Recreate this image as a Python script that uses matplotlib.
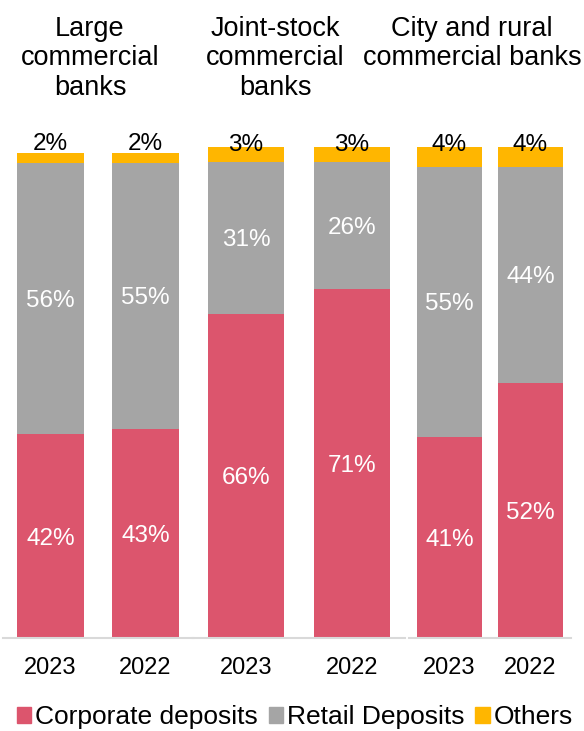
import matplotlib
matplotlib.use("Agg")
import matplotlib.pyplot as plt
from matplotlib.patches import Patch

plt.rcParams["font.family"] = ["Liberation Sans", "DejaVu Sans"]

# deposit mix per bank type, share of total (%)
groups = ["Large\ncommercial\nbanks", "Joint-stock\ncommercial\nbanks", "City and rural\ncommercial banks"]
years = ["2023", "2022"]
corporate = [[42, 43], [66, 71], [41, 52]]
retail = [[56, 55], [31, 26], [55, 44]]
others = [[2, 2], [3, 3], [4, 4]]

RED = "#DC556D"
GRAY = "#A5A5A5"
ORANGE = "#FFB600"
LINE = "#D9D9D9"

W, H = 584, 731
fig = plt.figure(figsize=(W / 100, H / 100), dpi=100)

# panel boxes in pixels: left, right, top of the 100% bar
panels = [(3, 193, 153), (193, 405, 147), (409, 571, 147)]
bar_w = [0.71, 0.72, 0.81]
top_off = [3, -4, -4]   # offset (px) of the top label baseline from the bar top
title_x = [90, 275, 472]
base_y = 638

for i, (l, r, t) in enumerate(panels):
    ax = fig.add_axes([l / W, 1 - base_y / H, (r - l) / W, (base_y - t) / H])
    x = range(len(years))
    c, rt, o = corporate[i], retail[i], others[i]
    bottom2 = [a + b for a, b in zip(c, rt)]
    ax.bar(x, c, width=bar_w[i], color=RED)
    ax.bar(x, rt, width=bar_w[i], bottom=c, color=GRAY)
    ax.bar(x, o, width=bar_w[i], bottom=bottom2, color=ORANGE)
    for j in x:
        ax.text(j, c[j] / 2 - 0.5, f"{c[j]}%", ha="center", va="center",
                color="white", fontsize=17.5)
        ax.text(j, c[j] + rt[j] / 2 - 0.5, f"{rt[j]}%", ha="center", va="center",
                color="white", fontsize=17.5)
        ax.annotate(f"{o[j]}%", (j, bottom2[j] + o[j]), xytext=(0, top_off[i] * 0.72),
                    textcoords="offset points", ha="center", va="baseline",
                    color="black", fontsize=17.5, annotation_clip=False)
    ax.set_xlim(-0.5, 1.5)
    ax.set_ylim(0, 100)
    ax.set_xticks(list(x))
    ax.set_xticklabels(years, fontsize=17)
    ax.tick_params(axis="x", length=0, pad=14)
    ax.set_yticks([])
    for s in ["left", "right", "top"]:
        ax.spines[s].set_visible(False)
    ax.spines["bottom"].set_color(LINE)
    ax.spines["bottom"].set_linewidth(1.5)
    ax.patch.set_visible(False)

    fig.text(title_x[i] / W, 1 - 16 / H, groups[i], ha="center", va="top",
             fontsize=19.5, linespacing=1.17, multialignment="center")

handles = [Patch(color=RED), Patch(color=GRAY), Patch(color=ORANGE)]
fig.legend(handles, ["Corporate deposits", "Retail Deposits", "Others"],
           loc="center", bbox_to_anchor=(0.505, 1 - 717 / H), ncol=3, frameon=False,
           fontsize=19, handlelength=0.55, handleheight=0.55, handletextpad=0.15,
           columnspacing=0.4, borderaxespad=0)

fig.savefig("out.png", dpi=100)
